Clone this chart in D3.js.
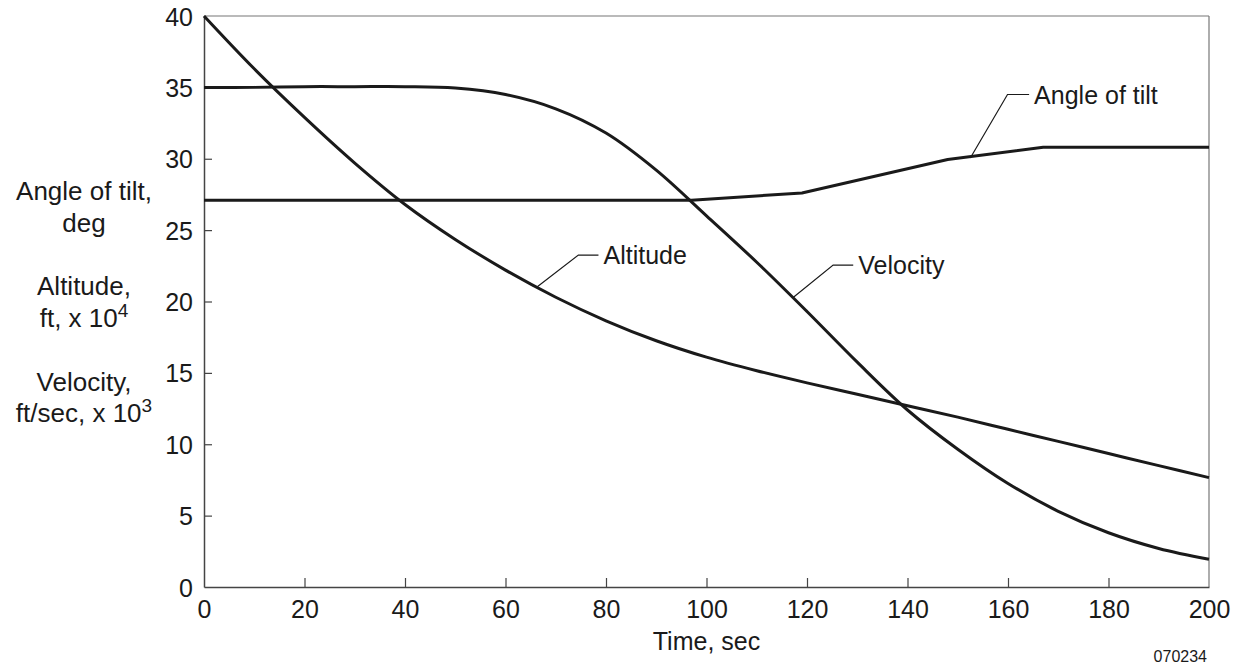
<!DOCTYPE html>
<html>
<head>
<meta charset="utf-8">
<script src="https://cdn.jsdelivr.net/npm/d3@7"></script>
<style>
  html, body { margin: 0; padding: 0; background: #fff; }
  svg text { font-family: "Liberation Sans", Arial, Helvetica, sans-serif; fill: #1a1a1a; }
</style>
</head>
<body>
<svg id="chart" width="1243" height="667"></svg>
<script>
// ---- Data ----
const time = [0, 10, 20, 30, 40, 50, 60, 70, 80, 90, 100, 110, 120, 130, 140, 150, 160, 170, 180, 190, 200];
const altitude = [40.0, 36.3, 32.9, 29.7, 26.8, 24.35, 22.2, 20.3, 18.65, 17.25, 16.1, 15.15, 14.3, 13.5, 12.7, 11.9, 11.05, 10.2, 9.35, 8.5, 7.66];
const velocity = [35.0, 35.0, 35.05, 35.05, 35.05, 34.95, 34.5, 33.5, 31.8, 29.2, 26.0, 22.75, 19.3, 15.75, 12.4, 9.65, 7.25, 5.3, 3.8, 2.7, 1.94];
const tiltTime = [0, 97, 119, 148, 167, 200];
const tilt = [27.1, 27.1, 27.6, 29.95, 30.8, 30.8];

const xTicks = [0, 20, 40, 60, 80, 100, 120, 140, 160, 180, 200];
const yTicks = [0, 5, 10, 15, 20, 25, 30, 35, 40];

// annotation: name, curve point [t, v], elbow [t, v], line end [t, v]
const labelNames = ["Altitude", "Velocity", "Angle of tilt"];
const labelCurvePt = [[66.2, 21.0], [117.3, 20.3], [152.5, 30.05]];
const labelElbow = [[74.5, 23.25], [125.2, 22.55], [159.9, 34.5]];
const labelEnd = [[78.5, 23.25], [129.2, 22.55], [164.2, 34.5]];

// ---- Layout ----
const svg = d3.select("#chart");
const margin = { left: 204, right: 1209, top: 16, bottom: 587 };
const x = d3.scaleLinear().domain([0, 200]).range([margin.left, margin.right]);
const y = d3.scaleLinear().domain([0, 40]).range([margin.bottom, margin.top]);

const ink = "#1a1a1a";
const axisCol = "#444";

// frame top & right
svg.append("line").attr("x1", x(0)).attr("x2", x(200)).attr("y1", y(40)).attr("y2", y(40))
  .attr("stroke", "#777").attr("stroke-width", 1.2);
svg.append("line").attr("x1", x(200)).attr("x2", x(200)).attr("y1", y(40)).attr("y2", y(0))
  .attr("stroke", "#777").attr("stroke-width", 1.2);

// axes
const yAxis = d3.axisLeft(y).tickValues(yTicks).tickSizeInner(-8).tickSizeOuter(0).tickPadding(11)
  .tickFormat(d3.format("d"));
const gy = svg.append("g").attr("transform", `translate(${x(0)},0)`).call(yAxis);
gy.select(".domain").attr("stroke", axisCol).attr("stroke-width", 1.5);
gy.selectAll(".tick line").attr("stroke", axisCol).attr("stroke-width", 1.2)
  .filter(d => d === 40 || d === 0).remove();
gy.selectAll(".tick text").attr("font-size", 25).attr("fill", ink).attr("dy", "0.36em");

const xAxis = d3.axisBottom(x).tickValues(xTicks).tickSizeInner(-9).tickSizeOuter(0).tickPadding(13)
  .tickFormat(d3.format("d"));
const gx = svg.append("g").attr("transform", `translate(0,${y(0)})`).call(xAxis);
gx.select(".domain").attr("stroke", axisCol).attr("stroke-width", 1.5);
gx.selectAll(".tick line").attr("stroke", axisCol).attr("stroke-width", 1.2)
  .filter(d => d === 0 || d === 200).remove();
gx.selectAll(".tick text").attr("font-size", 25).attr("fill", ink);

// ---- Curves ----
const smooth = d3.line().x(d => x(d[0])).y(d => y(d[1])).curve(d3.curveCatmullRom.alpha(0.5));
const straight = d3.line().x(d => x(d[0])).y(d => y(d[1])).curve(d3.curveLinear);

svg.append("path").datum(time.map((t, i) => [t, altitude[i]]))
  .attr("d", smooth).attr("fill", "none").attr("stroke", ink).attr("stroke-width", 3);
svg.append("path").datum(time.map((t, i) => [t, velocity[i]]))
  .attr("d", smooth).attr("fill", "none").attr("stroke", ink).attr("stroke-width", 3);
svg.append("path").datum(tiltTime.map((t, i) => [t, tilt[i]]))
  .attr("d", straight).attr("fill", "none").attr("stroke", ink).attr("stroke-width", 3)
  .attr("stroke-linejoin", "round");

// ---- Series labels ----
labelNames.forEach((name, i) => {
  const pts = [labelCurvePt[i], labelElbow[i], labelEnd[i]];
  svg.append("path").datum(pts).attr("d", straight)
    .attr("fill", "none").attr("stroke", ink).attr("stroke-width", 1.2);
  svg.append("text")
    .attr("x", x(labelEnd[i][0]) + 5)
    .attr("y", y(labelEnd[i][1]))
    .attr("dy", "0.36em")
    .attr("font-size", 25)
    .text(name);
});

// ---- Axis titles ----
svg.append("text").attr("x", (x(0) + x(200)) / 2).attr("y", 650)
  .attr("text-anchor", "middle").attr("font-size", 25).text("Time, sec");

const leftLines = [
  { y: 200, parts: [["Angle of tilt,", false]] },
  { y: 232, parts: [["deg", false]] },
  { y: 295, parts: [["Altitude,", false]] },
  { y: 327, parts: [["ft, x 10", false], ["4", true]] },
  { y: 391, parts: [["Velocity,", false]] },
  { y: 422, parts: [["ft/sec, x 10", false], ["3", true]] }
];
leftLines.forEach(l => {
  const t = svg.append("text").attr("x", 84).attr("y", l.y).attr("text-anchor", "middle").attr("font-size", 26);
  l.parts.forEach(p => {
    const s = t.append("tspan").text(p[0]);
    if (p[1]) s.attr("font-size", 19).attr("dy", -10);
  });
});

svg.append("text").attr("x", 1207).attr("y", 662).attr("text-anchor", "end")
  .attr("font-size", 16).text("070234");
</script>
</body>
</html>
